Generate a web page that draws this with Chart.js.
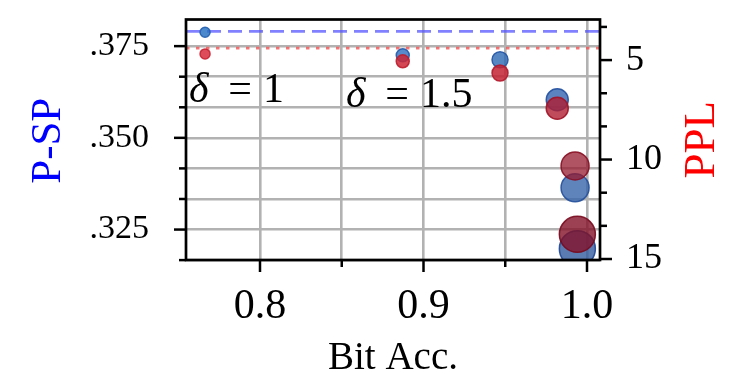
<!DOCTYPE html>
<html>
<head>
<meta charset="utf-8">
<script src="https://cdn.jsdelivr.net/npm/chart.js@4.4.1/dist/chart.umd.min.js"></script>
<style>
  html, body { margin: 0; padding: 0; background: #fff; }
  canvas { display: block; }
</style>
</head>
<body>
<canvas id="c" width="747" height="374"></canvas>
<script>
// ---- data ----
const bitAcc = [0.7664, 0.8873, 0.9468, 0.9818, 0.9927, 0.9941];
const pSP    = [0.3788, 0.3725, 0.3713, 0.3604, 0.3364, 0.3198];
const ppl    = [4.69, 5.06, 5.65, 7.42, 10.32, 13.76];
const pspBaseline = 0.3790;
const pplBaseline = 4.40;
const xTickValues  = [0.8, 0.85, 0.9, 0.95, 1.0];
const xTickLabels  = ['0.8', '', '0.9', '', '1.0'];
const yTickValues  = [0.31667, 0.325, 0.33333, 0.34167, 0.35, 0.35833, 0.36667, 0.375];
const yTickLabels  = ['', '.325', '', '', '.350', '', '', '.375'];
const y2TickValues = [3.333, 5, 6.667, 8.333, 10, 11.667, 13.333, 15];
const y2TickLabels = ['', '5', '', '', '10', '', '', '15'];
const annotations  = [
  { x: 0.7572, y: 0.3597, value: '1' },
  { x: 0.8532, y: 0.3584, value: '1.5' }
];

// ---- styles ----
const radii = [5, 6.5, 8, 11, 14, 18];
const blueFill = ['rgba(45,115,195,0.85)', 'rgba(45,110,190,0.8)', 'rgba(45,105,180,0.8)', 'rgba(50,100,175,0.8)', 'rgba(55,100,170,0.8)', 'rgba(50,90,160,0.8)'];
const blueEdge = ['rgba(35,95,175,0.9)', 'rgba(35,90,170,0.9)', 'rgba(35,85,165,0.9)', 'rgba(35,80,160,0.9)', 'rgba(35,80,155,0.9)', 'rgba(30,70,145,0.9)'];
const redFill  = ['rgba(215,45,60,0.85)', 'rgba(205,40,55,0.85)', 'rgba(195,35,50,0.85)', 'rgba(175,30,50,0.8)', 'rgba(150,25,45,0.75)', 'rgba(130,18,40,0.8)'];
const redEdge  = ['rgba(200,35,50,0.9)', 'rgba(190,30,45,0.9)', 'rgba(180,25,45,0.9)', 'rgba(160,20,40,0.9)', 'rgba(135,15,35,0.9)', 'rgba(120,10,30,0.9)'];
const SERIF = "'Liberation Serif', 'DejaVu Serif', serif";
const X_MIN = 0.75474, X_MAX = 1.00795;
const GRID = { color: '#b2b2b2', lineWidth: 2.6, drawTicks: false };

function near(a, b) { return Math.abs(a - b) < 1e-6; }
function zeroPad(s) { s.paddingTop = 0; s.paddingBottom = 0; s.paddingLeft = 0; s.paddingRight = 0; }

const decor = {
  id: 'decor',
  afterDraw(chart) {
    const { ctx, chartArea: a, scales } = chart;
    ctx.save();
    // tick marks
    ctx.strokeStyle = '#000';
    ctx.lineWidth = 2.5;
    const tickDraw = (scale, vals, labels, side) => {
      vals.forEach((v, i) => {
        const p = scale.getPixelForValue(v);
        const len = labels[i] !== '' ? 12 : 7;
        ctx.beginPath();
        if (side === 'bottom') { ctx.moveTo(p, a.bottom); ctx.lineTo(p, a.bottom + len); }
        else if (side === 'left') { ctx.moveTo(a.left, p); ctx.lineTo(a.left - len, p); }
        else { ctx.moveTo(a.right, p); ctx.lineTo(a.right + len, p); }
        ctx.stroke();
      });
    };
    tickDraw(scales.x, xTickValues, xTickLabels, 'bottom');
    tickDraw(scales.y, yTickValues, yTickLabels, 'left');
    tickDraw(scales.y2, y2TickValues, y2TickLabels, 'right');
    // spines
    ctx.lineWidth = 2.7;
    ctx.strokeRect(a.left, a.top, a.right - a.left, a.bottom - a.top);

    // axis titles
    ctx.textAlign = 'center';
    ctx.textBaseline = 'alphabetic';
    ctx.fillStyle = '#000';
    ctx.font = '39px ' + SERIF;
    ctx.fillText('Bit Acc.', (a.left + a.right) / 2, 369);

    ctx.save();
    ctx.fillStyle = '#0000ff';
    ctx.font = '43px ' + SERIF;
    ctx.translate(46, (a.top + a.bottom) / 2 + 1);
    ctx.rotate(-Math.PI / 2);
    ctx.fillText('P-SP', 0, 14);
    ctx.restore();

    ctx.save();
    ctx.fillStyle = '#ff0000';
    ctx.font = '45px ' + SERIF;
    ctx.translate(699, (a.top + a.bottom) / 2);
    ctx.rotate(-Math.PI / 2);
    ctx.fillText('PPL', 0, 15);
    ctx.restore();

    // delta annotations
    annotations.forEach(an => {
      const px = scales.x.getPixelForValue(an.x);
      const py = scales.y.getPixelForValue(an.y);
      ctx.fillStyle = '#000';
      ctx.textAlign = 'left';
      ctx.font = 'italic 42px ' + SERIF;
      ctx.fillText('\u03b4', px - 1, py);
      ctx.font = '42px ' + SERIF;
      ctx.textAlign = 'center';
      ctx.fillText('=', px + 50, py);
      ctx.textAlign = 'left';
      ctx.fillText(an.value, px + 73, py);
    });
    ctx.restore();
  }
};

const tickFont = (size) => ({ family: SERIF, size: size });

new Chart(document.getElementById('c'), {
  type: 'scatter',
  data: {
    datasets: [
      {
        label: 'PPL',
        data: bitAcc.map((x, i) => ({ x: x, y: ppl[i] })),
        yAxisID: 'y2',
        pointRadius: radii,
        backgroundColor: redFill,
        borderColor: redEdge,
        borderWidth: 1.5,
        order: 1
      },
      {
        label: 'P-SP',
        data: bitAcc.map((x, i) => ({ x: x, y: pSP[i] })),
        yAxisID: 'y',
        pointRadius: radii,
        backgroundColor: blueFill,
        borderColor: blueEdge,
        borderWidth: 1.5,
        order: 2
      },
      {
        type: 'line',
        label: 'P-SP base',
        data: [{ x: X_MIN, y: pspBaseline }, { x: X_MAX, y: pspBaseline }],
        yAxisID: 'y',
        borderColor: 'rgba(80,80,255,0.72)',
        borderDash: [14, 7],
        borderWidth: 2.7,
        pointRadius: 0,
        fill: false,
        order: 3
      },
      {
        type: 'line',
        label: 'PPL base',
        data: [{ x: X_MIN, y: pplBaseline }, { x: X_MAX, y: pplBaseline }],
        yAxisID: 'y2',
        borderColor: 'rgba(240,85,85,0.8)',
        borderDash: [3.5, 6.5],
        borderWidth: 2.9,
        pointRadius: 0,
        fill: false,
        order: 4
      }
    ]
  },
  options: {
    responsive: false,
    animation: false,
    events: [],
    layout: { padding: { top: 17, left: 0, right: 0, bottom: 0 } },
    plugins: { legend: { display: false }, tooltip: { enabled: false } },
    scales: {
      x: {
        type: 'linear',
        min: X_MIN, max: X_MAX,
        afterBuildTicks: s => { s.ticks = xTickValues.map(v => ({ value: v })); },
        afterFit: s => { s.height = 114; zeroPad(s); },
        ticks: {
          autoSkip: false, maxRotation: 0, color: '#000', padding: 22,
          font: tickFont(42),
          callback: (v) => { const i = xTickValues.findIndex(t => near(t, v)); return i >= 0 ? xTickLabels[i] : ''; }
        },
        grid: GRID,
        border: { display: false }
      },
      y: {
        type: 'linear', position: 'left',
        min: 0.3167, max: 0.38226,
        afterBuildTicks: s => { s.ticks = yTickValues.map(v => ({ value: v })); },
        afterFit: s => { s.width = 186; zeroPad(s); },
        ticks: {
          autoSkip: false, color: '#000', padding: 37,
          font: tickFont(34),
          callback: (v) => { const i = yTickValues.findIndex(t => near(t, v)); return i >= 0 ? yTickLabels[i] : ''; }
        },
        grid: GRID,
        border: { display: false }
      },
      y2: {
        type: 'linear', position: 'right', reverse: true,
        min: 2.96, max: 15.05,
        afterBuildTicks: s => { s.ticks = y2TickValues.map(v => ({ value: v })); },
        afterFit: s => { s.width = 147; zeroPad(s); },
        ticks: {
          autoSkip: false, color: '#000', padding: 26,
          font: tickFont(36),
          callback: (v) => { const i = y2TickValues.findIndex(t => near(t, v)); return i >= 0 ? y2TickLabels[i] : ''; }
        },
        grid: { display: false, drawTicks: false },
        border: { display: false }
      }
    }
  },
  plugins: [decor]
});
</script>
</body>
</html>
